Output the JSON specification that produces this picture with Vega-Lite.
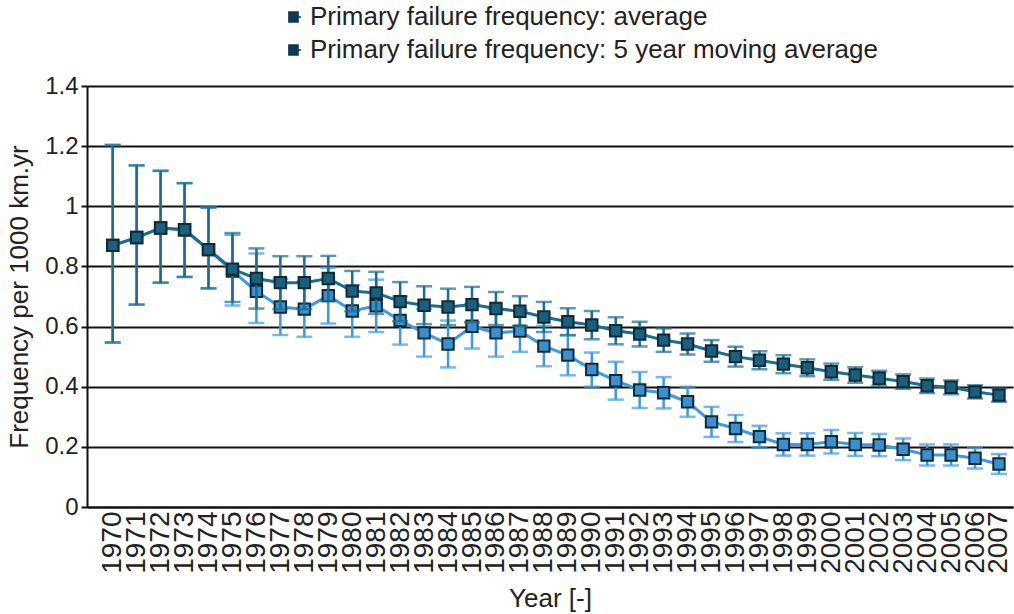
{
  "$schema": "https://vega.github.io/schema/vega-lite/v6.json",
  "width": 926,
  "height": 421,
  "autosize": {"type": "none"},
  "padding": {"left": 87, "top": 86, "right": 1, "bottom": 107},
  "background": "white",
  "config": {
    "font": "Liberation Sans",
    "view": {"stroke": null},
    "axisY": {
      "tickCount": 7, "format": "~g", "grid": true, "gridColor": "#111", "gridWidth": 2,
      "domainColor": "#111", "domainWidth": 2, "tickColor": "#111", "tickWidth": 2, "tickSize": 6,
      "labelFontSize": 24, "labelColor": "#222", "labelPadding": 3,
      "titleFontSize": 26, "titleFontWeight": "normal", "titleColor": "#222", "titlePadding": 12
    },
    "axisX": {
      "labelAngle": -90, "labelFontSize": 28, "labelColor": "#222", "labelPadding": 4,
      "ticks": false, "grid": false, "domainColor": "#111", "domainWidth": 2,
      "titleFontSize": 26, "titleFontWeight": "normal", "titleColor": "#222", "titlePadding": 12
    }
  },
  "data": {"values": [
    {"year": 1970, "s": "A", "value": 0.870, "lo": 0.547, "hi": 1.204},
    {"year": 1971, "s": "A", "value": 0.896, "lo": 0.673, "hi": 1.136},
    {"year": 1972, "s": "A", "value": 0.928, "lo": 0.746, "hi": 1.118},
    {"year": 1973, "s": "A", "value": 0.922, "lo": 0.765, "hi": 1.077},
    {"year": 1974, "s": "A", "value": 0.856, "lo": 0.727, "hi": 0.996},
    {"year": 1975, "s": "A", "value": 0.791, "lo": 0.682, "hi": 0.911},
    {"year": 1976, "s": "A", "value": 0.760, "lo": 0.660, "hi": 0.860},
    {"year": 1977, "s": "A", "value": 0.746, "lo": 0.658, "hi": 0.834},
    {"year": 1978, "s": "A", "value": 0.746, "lo": 0.658, "hi": 0.834},
    {"year": 1979, "s": "A", "value": 0.760, "lo": 0.685, "hi": 0.835},
    {"year": 1980, "s": "A", "value": 0.718, "lo": 0.651, "hi": 0.785},
    {"year": 1981, "s": "A", "value": 0.712, "lo": 0.642, "hi": 0.782},
    {"year": 1982, "s": "A", "value": 0.683, "lo": 0.618, "hi": 0.748},
    {"year": 1983, "s": "A", "value": 0.671, "lo": 0.608, "hi": 0.734},
    {"year": 1984, "s": "A", "value": 0.665, "lo": 0.605, "hi": 0.726},
    {"year": 1985, "s": "A", "value": 0.673, "lo": 0.614, "hi": 0.732},
    {"year": 1986, "s": "A", "value": 0.660, "lo": 0.605, "hi": 0.715},
    {"year": 1987, "s": "A", "value": 0.651, "lo": 0.601, "hi": 0.701},
    {"year": 1988, "s": "A", "value": 0.632, "lo": 0.582, "hi": 0.682},
    {"year": 1989, "s": "A", "value": 0.616, "lo": 0.571, "hi": 0.661},
    {"year": 1990, "s": "A", "value": 0.605, "lo": 0.558, "hi": 0.652},
    {"year": 1991, "s": "A", "value": 0.586, "lo": 0.541, "hi": 0.631},
    {"year": 1992, "s": "A", "value": 0.575, "lo": 0.534, "hi": 0.616},
    {"year": 1993, "s": "A", "value": 0.555, "lo": 0.516, "hi": 0.594},
    {"year": 1994, "s": "A", "value": 0.542, "lo": 0.507, "hi": 0.577},
    {"year": 1995, "s": "A", "value": 0.519, "lo": 0.483, "hi": 0.555},
    {"year": 1996, "s": "A", "value": 0.500, "lo": 0.467, "hi": 0.533},
    {"year": 1997, "s": "A", "value": 0.488, "lo": 0.458, "hi": 0.518},
    {"year": 1998, "s": "A", "value": 0.475, "lo": 0.445, "hi": 0.505},
    {"year": 1999, "s": "A", "value": 0.463, "lo": 0.435, "hi": 0.491},
    {"year": 2000, "s": "A", "value": 0.450, "lo": 0.423, "hi": 0.477},
    {"year": 2001, "s": "A", "value": 0.439, "lo": 0.413, "hi": 0.465},
    {"year": 2002, "s": "A", "value": 0.428, "lo": 0.403, "hi": 0.453},
    {"year": 2003, "s": "A", "value": 0.417, "lo": 0.393, "hi": 0.441},
    {"year": 2004, "s": "A", "value": 0.403, "lo": 0.379, "hi": 0.427},
    {"year": 2005, "s": "A", "value": 0.398, "lo": 0.375, "hi": 0.421},
    {"year": 2006, "s": "A", "value": 0.383, "lo": 0.361, "hi": 0.405},
    {"year": 2007, "s": "A", "value": 0.372, "lo": 0.350, "hi": 0.394},
    {"year": 1970, "s": "M", "value": 0.870, "lo": 0.547, "hi": 1.204},
    {"year": 1971, "s": "M", "value": 0.896, "lo": 0.673, "hi": 1.136},
    {"year": 1972, "s": "M", "value": 0.928, "lo": 0.746, "hi": 1.118},
    {"year": 1973, "s": "M", "value": 0.922, "lo": 0.765, "hi": 1.077},
    {"year": 1974, "s": "M", "value": 0.856, "lo": 0.727, "hi": 0.996},
    {"year": 1975, "s": "M", "value": 0.785, "lo": 0.670, "hi": 0.905},
    {"year": 1976, "s": "M", "value": 0.717, "lo": 0.612, "hi": 0.843},
    {"year": 1977, "s": "M", "value": 0.665, "lo": 0.572, "hi": 0.758},
    {"year": 1978, "s": "M", "value": 0.658, "lo": 0.566, "hi": 0.750},
    {"year": 1979, "s": "M", "value": 0.703, "lo": 0.610, "hi": 0.796},
    {"year": 1980, "s": "M", "value": 0.652, "lo": 0.566, "hi": 0.738},
    {"year": 1981, "s": "M", "value": 0.669, "lo": 0.582, "hi": 0.756},
    {"year": 1982, "s": "M", "value": 0.620, "lo": 0.540, "hi": 0.700},
    {"year": 1983, "s": "M", "value": 0.579, "lo": 0.500, "hi": 0.658},
    {"year": 1984, "s": "M", "value": 0.542, "lo": 0.464, "hi": 0.620},
    {"year": 1985, "s": "M", "value": 0.601, "lo": 0.527, "hi": 0.675},
    {"year": 1986, "s": "M", "value": 0.579, "lo": 0.500, "hi": 0.658},
    {"year": 1987, "s": "M", "value": 0.585, "lo": 0.516, "hi": 0.654},
    {"year": 1988, "s": "M", "value": 0.535, "lo": 0.468, "hi": 0.602},
    {"year": 1989, "s": "M", "value": 0.505, "lo": 0.438, "hi": 0.572},
    {"year": 1990, "s": "M", "value": 0.457, "lo": 0.400, "hi": 0.514},
    {"year": 1991, "s": "M", "value": 0.420, "lo": 0.357, "hi": 0.483},
    {"year": 1992, "s": "M", "value": 0.389, "lo": 0.329, "hi": 0.449},
    {"year": 1993, "s": "M", "value": 0.380, "lo": 0.328, "hi": 0.432},
    {"year": 1994, "s": "M", "value": 0.350, "lo": 0.300, "hi": 0.400},
    {"year": 1995, "s": "M", "value": 0.283, "lo": 0.233, "hi": 0.333},
    {"year": 1996, "s": "M", "value": 0.261, "lo": 0.216, "hi": 0.306},
    {"year": 1997, "s": "M", "value": 0.234, "lo": 0.198, "hi": 0.270},
    {"year": 1998, "s": "M", "value": 0.208, "lo": 0.171, "hi": 0.245},
    {"year": 1999, "s": "M", "value": 0.208, "lo": 0.171, "hi": 0.245},
    {"year": 2000, "s": "M", "value": 0.217, "lo": 0.178, "hi": 0.256},
    {"year": 2001, "s": "M", "value": 0.208, "lo": 0.170, "hi": 0.246},
    {"year": 2002, "s": "M", "value": 0.206, "lo": 0.169, "hi": 0.243},
    {"year": 2003, "s": "M", "value": 0.192, "lo": 0.156, "hi": 0.228},
    {"year": 2004, "s": "M", "value": 0.173, "lo": 0.138, "hi": 0.208},
    {"year": 2005, "s": "M", "value": 0.173, "lo": 0.138, "hi": 0.208},
    {"year": 2006, "s": "M", "value": 0.162, "lo": 0.128, "hi": 0.196},
    {"year": 2007, "s": "M", "value": 0.143, "lo": 0.110, "hi": 0.176}
  ]},
  "encoding": {
    "x": {"field": "year", "type": "ordinal", "title": "Year [-]",
          "scale": {"type": "point", "padding": 0.829, "align": 0.647}}
  },
  "layer": [
    {
      "transform": [{"filter": "datum.s == 'M'"}],
      "layer": [
        {"mark": {"type": "rule", "strokeWidth": 2.5, "color": "#3d9ae0"},
         "encoding": {"y": {"field": "lo", "type": "quantitative", "title": "Frequency per 1000 km.yr", "scale": {"domain": [0, 1.4], "nice": false}}, "y2": {"field": "hi"}}},
        {"mark": {"type": "tick", "orient": "horizontal", "size": 16, "thickness": 2.5, "color": "#3d9ae0"},
         "encoding": {"y": {"field": "lo", "type": "quantitative", "title": "Frequency per 1000 km.yr"}}},
        {"mark": {"type": "tick", "orient": "horizontal", "size": 16, "thickness": 2.5, "color": "#3d9ae0"},
         "encoding": {"y": {"field": "hi", "type": "quantitative", "title": "Frequency per 1000 km.yr"}}},
        {"mark": {"type": "line", "strokeWidth": 3, "color": "#3d9ae0"},
         "encoding": {"y": {"field": "value", "type": "quantitative", "title": "Frequency per 1000 km.yr"}}},
        {"mark": {"type": "point", "shape": "square", "filled": true, "size": 130, "fill": "#3a8fd0", "stroke": "#0c2a38", "strokeWidth": 2, "opacity": 1},
         "encoding": {"y": {"field": "value", "type": "quantitative", "title": "Frequency per 1000 km.yr"}}}
      ]
    },
    {
      "transform": [{"filter": "datum.s == 'A'"}],
      "layer": [
        {"mark": {"type": "rule", "strokeWidth": 2.5, "color": "#1b6d8c"},
         "encoding": {"y": {"field": "lo", "type": "quantitative", "title": "Frequency per 1000 km.yr"}, "y2": {"field": "hi"}}},
        {"mark": {"type": "tick", "orient": "horizontal", "size": 16, "thickness": 2.5, "color": "#1b6d8c"},
         "encoding": {"y": {"field": "lo", "type": "quantitative", "title": "Frequency per 1000 km.yr"}}},
        {"mark": {"type": "tick", "orient": "horizontal", "size": 16, "thickness": 2.5, "color": "#1b6d8c"},
         "encoding": {"y": {"field": "hi", "type": "quantitative", "title": "Frequency per 1000 km.yr"}}},
        {"mark": {"type": "line", "strokeWidth": 3, "color": "#1b6d8c"},
         "encoding": {"y": {"field": "value", "type": "quantitative", "title": "Frequency per 1000 km.yr"}}},
        {"mark": {"type": "point", "shape": "square", "filled": true, "size": 130, "fill": "#1a5f7e", "stroke": "#0c2a38", "strokeWidth": 2, "opacity": 1},
         "encoding": {"y": {"field": "value", "type": "quantitative", "title": "Frequency per 1000 km.yr"}}}
      ]
    },
    {
      "mark": {"type": "point", "shape": "square", "filled": true, "size": 0, "opacity": 1},
      "encoding": {
        "y": {"field": "value", "type": "quantitative", "title": "Frequency per 1000 km.yr"},
        "color": {"field": "s", "type": "nominal",
          "scale": {"domain": ["A", "M"], "range": ["#0d3b4e", "#0d3b4e"]},
          "legend": {"orient": "none", "legendX": 195, "legendY": -82, "title": null, "direction": "vertical",
            "padding": 0, "labelFontSize": 26, "labelColor": "#222", "labelFont": "Liberation Sans", "labelLimit": 900,
            "symbolType": "M-1,-0.8H0.5V0.8H-1Z M0.5,0H1", "symbolSize": 150, "symbolStrokeWidth": 1.5,
            "symbolStrokeColor": "#0d3b4e",
            "rowPadding": 7, "labelOffset": 2,
            "labelExpr": "datum.label == 'A' ? 'Primary failure frequency: average' : 'Primary failure frequency: 5 year moving average'"}
        }
      }
    }
  ]
}
